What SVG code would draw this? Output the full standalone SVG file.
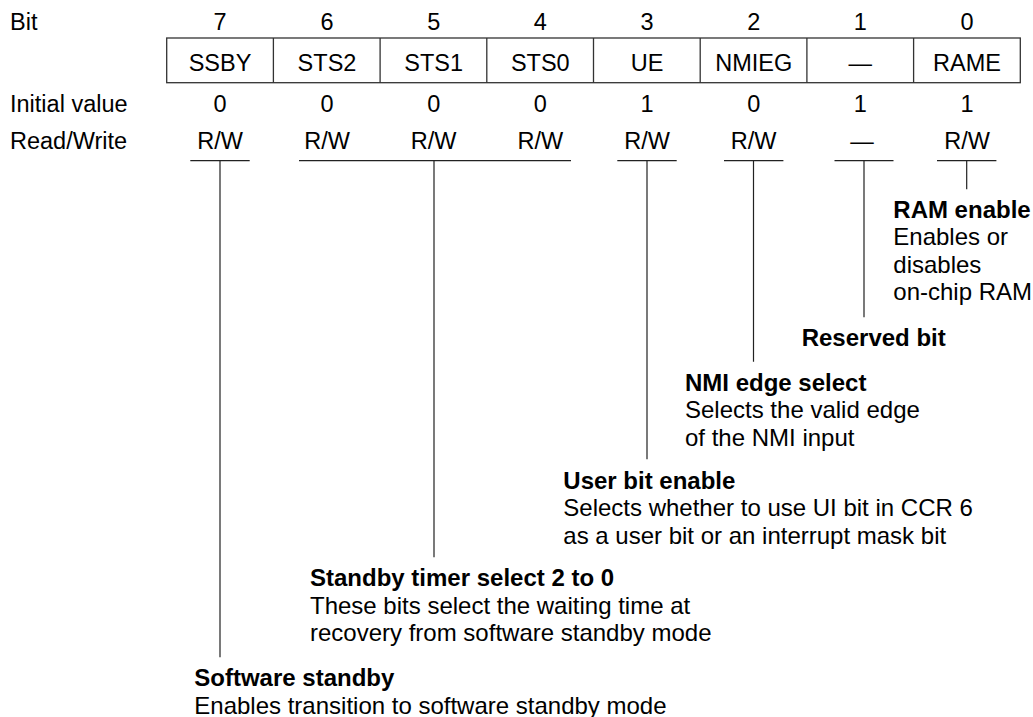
<svg xmlns="http://www.w3.org/2000/svg" width="1033" height="717" viewBox="0 0 1033 717">
<style>
text{font-family:"Liberation Sans",Arial,sans-serif;fill:#000}
.t{font-size:23.5px}
.c{font-size:23.5px;text-anchor:middle}
.h{font-size:24px;font-weight:bold}
.d{font-size:24px}
.ln{stroke:#222;stroke-width:1.2;fill:none}
.box{stroke:#333;stroke-width:1.3;fill:#fff}
</style>
<rect width="1033" height="717" fill="#fff"/>
<g id="row-labels">
<text class="t" x="10" y="29.5">Bit</text>
<text class="t" x="10" y="111.5">Initial value</text>
<text class="t" x="10" y="148.5">Read/Write</text>
</g>
<g id="register">
<rect class="box" x="166.7" y="38" width="853.6" height="44.7"/>
<path class="ln" d="M273.4 38V82.7M380.1 38V82.7M486.8 38V82.7M593.5 38V82.7M700.2 38V82.7M806.9 38V82.7M913.6 38V82.7" style="stroke:#333;stroke-width:1.3"/>
</g>
<g id="bit7"><text class="c" x="220" y="29.5">7</text><text class="c" x="220" y="70.7">SSBY</text><text class="c" x="220" y="111.5">0</text><text class="c" x="220" y="148.5">R/W</text></g>
<g id="bit6"><text class="c" x="327" y="29.5">6</text><text class="c" x="327" y="70.7">STS2</text><text class="c" x="327" y="111.5">0</text><text class="c" x="327" y="148.5">R/W</text></g>
<g id="bit5"><text class="c" x="433.7" y="29.5">5</text><text class="c" x="433.7" y="70.7">STS1</text><text class="c" x="433.7" y="111.5">0</text><text class="c" x="433.7" y="148.5">R/W</text></g>
<g id="bit4"><text class="c" x="540.3" y="29.5">4</text><text class="c" x="540.3" y="70.7">STS0</text><text class="c" x="540.3" y="111.5">0</text><text class="c" x="540.3" y="148.5">R/W</text></g>
<g id="bit3"><text class="c" x="647" y="29.5">3</text><text class="c" x="647" y="70.7">UE</text><text class="c" x="647" y="111.5">1</text><text class="c" x="647" y="148.5">R/W</text></g>
<g id="bit2"><text class="c" x="753.7" y="29.5">2</text><text class="c" x="753.7" y="70.7">NMIEG</text><text class="c" x="753.7" y="111.5">0</text><text class="c" x="753.7" y="148.5">R/W</text></g>
<g id="bit1"><text class="c" x="860.3" y="29.5">1</text><text class="c" x="860.3" y="70.7">—</text><text class="c" x="860.3" y="111.5">1</text><text class="c" x="862" y="148.5">—</text></g>
<g id="bit0"><text class="c" x="967" y="29.5">0</text><text class="c" x="967" y="70.7">RAME</text><text class="c" x="967" y="111.5">1</text><text class="c" x="967" y="148.5">R/W</text></g>
<g id="connectors">
<path class="ln" d="M190.3 160.7H249.7M220 160.7V657.3"/>
<path class="ln" d="M299 160.7H571M434 160.7V557.3"/>
<path class="ln" d="M617.3 160.7H676.7M647 160.7V459.3"/>
<path class="ln" d="M724 160.7H783.4M753.5 160.7V361.7"/>
<path class="ln" d="M834.5 160.7H893.5M864 160.7V317.3"/>
<path class="ln" d="M937 160.7H996.4M966.7 160.7V189.3"/>
</g>
<g id="note-rame">
<text class="h" x="893.3" y="217.5">RAM enable</text>
<text class="d" x="893.3" y="245">Enables or</text>
<text class="d" x="893.3" y="272.5">disables</text>
<text class="d" x="893.3" y="300">on-chip RAM</text>
</g>
<g id="note-reserved">
<text class="h" x="801.7" y="346">Reserved bit</text>
</g>
<g id="note-nmieg">
<text class="h" x="685" y="390.5">NMI edge select</text>
<text class="d" x="685" y="418">Selects the valid edge</text>
<text class="d" x="685" y="445.5">of the NMI input</text>
</g>
<g id="note-ue">
<text class="h" x="563.3" y="488.5">User bit enable</text>
<text class="d" x="563.3" y="516">Selects whether to use UI bit in CCR 6</text>
<text class="d" x="563.3" y="543.5">as a user bit or an interrupt mask bit</text>
</g>
<g id="note-sts">
<text class="h" x="310" y="586">Standby timer select 2 to 0</text>
<text class="d" x="310" y="613.5">These bits select the waiting time at</text>
<text class="d" x="310" y="641">recovery from software standby mode</text>
</g>
<g id="note-ssby">
<text class="h" x="194.3" y="686">Software standby</text>
<text class="d" x="194.3" y="713.5">Enables transition to software standby mode</text>
</g>
</svg>
